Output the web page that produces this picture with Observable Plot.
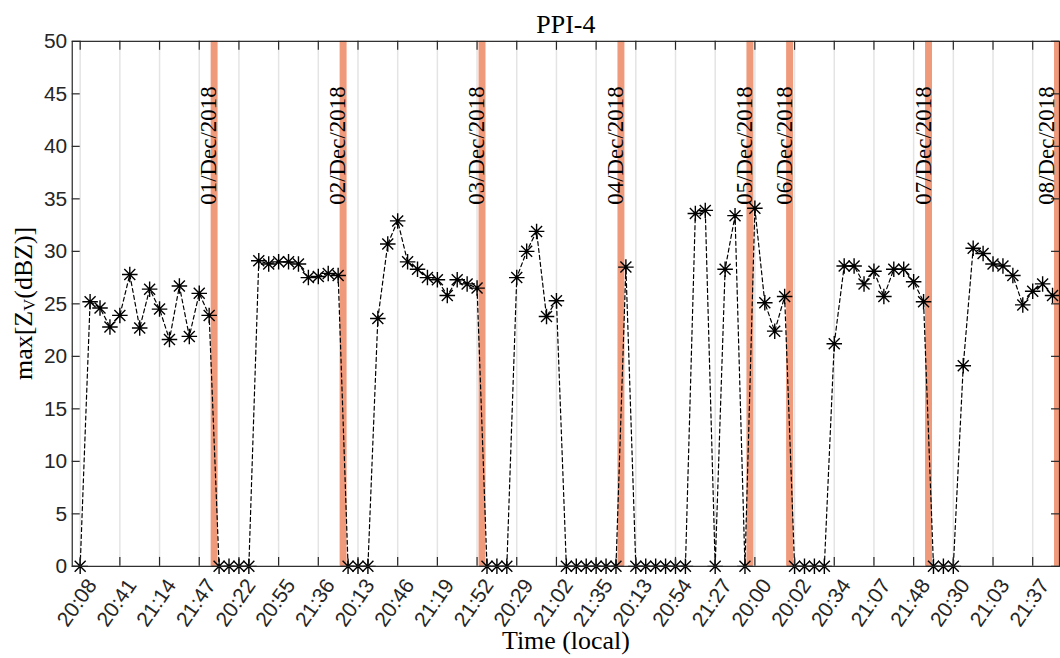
<!DOCTYPE html>
<html><head><meta charset="utf-8">
<script src="https://cdn.jsdelivr.net/npm/d3@7"></script>
<script src="https://cdn.jsdelivr.net/npm/@observablehq/plot@0.6"></script>
<style>
html,body{margin:0;padding:0;background:#fff;overflow:hidden;}
</style></head><body><div id="chart"></div>
<script>
// max[Z_V] per scan (dBZ), consecutive scans
const values = [
  0, 25.2, 24.6, 22.8, 23.9, 27.8, 22.7, 26.4, 24.5, 21.6, 26.7, 21.9, 26.0, 23.9,
  0, 0, 0, 0,
  29.1, 28.8, 29.0, 29.0, 28.8, 27.5, 27.6, 27.9, 27.7,
  0, 0, 0,
  23.6, 30.7, 32.9, 29.0, 28.3, 27.5, 27.3, 25.8, 27.3, 26.9, 26.5,
  0, 0, 0,
  27.5, 30.0, 31.9, 23.8, 25.3,
  0, 0, 0, 0, 0, 0,
  28.5,
  0, 0, 0, 0, 0, 0,
  33.6, 33.9, 0, 28.3, 33.4, 0, 34.1, 25.1, 22.4, 25.7,
  0, 0, 0, 0,
  21.2, 28.6, 28.6, 26.9, 28.1, 25.7, 28.3, 28.3, 27.1, 25.2,
  0, 0, 0,
  19.1, 30.3, 29.8, 28.8, 28.6, 27.7, 24.9, 26.2, 26.9, 25.8
];
const tickLabels = ["20:08","20:41","21:14","21:47","20:22","20:55","21:36","20:13","20:46","21:19","21:52","20:29","21:02","21:35","20:13","20:54","21:27","20:00","20:02","20:34","21:07","21:48","20:30","21:03","21:37"];
const tickStep = 4;
const dayLabels = ["01/Dec/2018","02/Dec/2018","03/Dec/2018","04/Dec/2018","05/Dec/2018","06/Dec/2018","07/Dec/2018","08/Dec/2018"];
const dayBoundaries = [13.5, 26.5, 40.5, 54.5, 67.5, 71.5, 85.5, 98.5];
const yTicks = [0, 5, 10, 15, 20, 25, 30, 35, 40, 45, 50];

const xTicks = tickLabels.map((d, i) => i * tickStep);
const W = 1064, H = 658, ML = 72, MR = 1, MT = 41, MB = 90;
const PW = W - ML - MR, PH = H - MT - MB;

const asterisk = {
  draw(ctx, size) {
    const r = Math.sqrt(size / Math.PI);
    const d = r * Math.SQRT1_2;
    ctx.moveTo(-r, 0); ctx.lineTo(r, 0);
    ctx.moveTo(0, -r); ctx.lineTo(0, r);
    ctx.moveTo(-d, -d); ctx.lineTo(d, d);
    ctx.moveTo(-d, d); ctx.lineTo(d, -d);
  }
};

const ink = "#262626";
const serif = "Liberation Serif, Times New Roman, serif";
const dayText = {frameAnchor: "top", dy: 164, rotate: -90, textAnchor: "start", lineAnchor: "bottom", fontFamily: serif, fontSize: 23, fill: "black"};
const lastDay = dayBoundaries.length - 1;

const chart = Plot.plot({
  width: W, height: H,
  marginLeft: ML, marginRight: MR, marginTop: MT, marginBottom: MB,
  style: "font-family: 'Liberation Sans', Arial, sans-serif; font-size: 21px; color: #262626; background: white;",
  x: {domain: [-0.8, 98.7], axis: null},
  y: {domain: [0, 50], axis: null},
  marks: [
    Plot.ruleX(xTicks, {x: d => d, stroke: "#e4e4e4", strokeWidth: 1.5}),
    Plot.ruleX(dayBoundaries, {x: d => d, stroke: "#f09a7c", strokeWidth: 7}),
    Plot.line(values, {x: (d, i) => i, y: d => d, stroke: "black", strokeWidth: 1.2, strokeDasharray: "4,3"}),
    Plot.dot(values, {x: (d, i) => i, y: d => d, symbol: asterisk, r: 7.8, stroke: "black", strokeWidth: 1.4, fill: "none"}),
    Plot.frame({stroke: ink, strokeWidth: 1.2}),
    Plot.tickY(yTicks, {y: d => d, stroke: ink, strokeWidth: 1.2, insetRight: PW - 8}),
    Plot.tickY(yTicks, {y: d => d, stroke: ink, strokeWidth: 1.2, insetLeft: PW - 8}),
    Plot.tickX(xTicks, {x: d => d, stroke: ink, strokeWidth: 1.2, insetTop: PH - 9}),
    Plot.tickX(xTicks, {x: d => d, stroke: ink, strokeWidth: 1.2, insetBottom: PH - 9}),
    Plot.text(yTicks, {y: d => d, text: d => String(d), frameAnchor: "left", textAnchor: "end", dx: -5, fill: ink, fontSize: 21}),
    Plot.text(tickLabels, {x: (d, i) => i * tickStep, text: d => d, frameAnchor: "bottom", rotate: -55, textAnchor: "end", lineAnchor: "middle", dx: 12, dy: 15, fill: ink, fontSize: 21}),
    Plot.text(dayBoundaries.slice(0, lastDay), {x: d => d, text: (d, i) => dayLabels[i], dx: 2, ...dayText}),
    Plot.text([dayBoundaries[lastDay]], {x: d => d, text: () => dayLabels[lastDay], dx: -4, ...dayText}),
    Plot.text(["PPI-4"], {text: d => d, frameAnchor: "top", dy: -17, lineAnchor: "middle", fontFamily: serif, fontSize: 26, fill: "black"}),
    Plot.text(["Time (local)"], {text: d => d, frameAnchor: "bottom", dy: 75, lineAnchor: "middle", fontFamily: serif, fontSize: 26, fill: "black"})
  ]
});
document.getElementById("chart").appendChild(chart);

// y-axis label with subscript
const svg = d3.select(chart);
const yl = svg.append("text")
  .attr("transform", `translate(26,${MT + PH / 2}) rotate(-90)`)
  .attr("text-anchor", "middle")
  .attr("dominant-baseline", "middle")
  .attr("font-family", serif)
  .attr("font-size", 26)
  .attr("fill", "black");
yl.append("tspan").text("max[Z");
yl.append("tspan").attr("font-size", 17).attr("dy", 5).text("V");
yl.append("tspan").attr("dy", -5).text("(dBZ)]");
</script></body></html>
